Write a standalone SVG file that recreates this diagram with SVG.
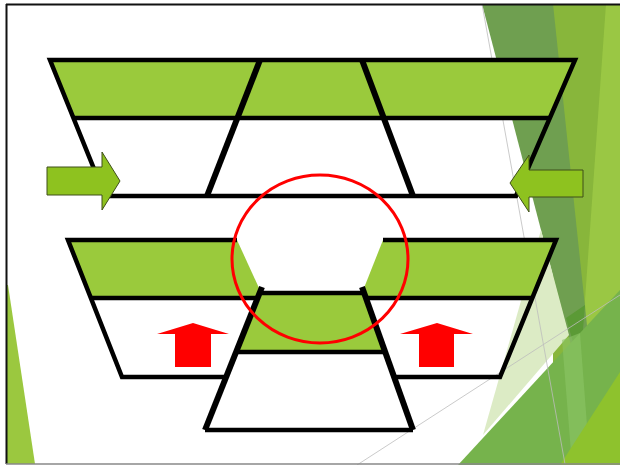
<svg xmlns="http://www.w3.org/2000/svg" width="620" height="465" viewBox="0 0 620 465">
  <style>
    .band { fill: #9ACA3C; }
    .ln { fill: none; stroke: #000; stroke-width: 4.5; stroke-linejoin: miter; }
    .div { fill: none; stroke: #000; stroke-width: 6; }
    .garrow { fill: #8EC21F; stroke: #3F4F1A; stroke-width: 1; }
    .rarrow { fill: #FF0000; }
    .thin { fill: none; stroke: #BDBDBD; stroke-width: 0.8; }
  </style>
  <rect x="0" y="0" width="620" height="465" fill="#FFFFFF"/>
  <g id="background-decoration">
    <polygon points="6,285 8,285 35,464 6,464" fill="#9BC83F"/>
    <polygon points="553,4 620,4 620,465 553,465" fill="#88B63B"/>
    <polygon points="606,4 620,4 620,465 588,465 585,300" fill="#9AC744"/>
    <polygon points="482,4 553,4 588,335 577,368" fill="#6F9F50"/>
    <polygon points="566,318 585,305 580,366" fill="#5B9A36"/>
    <polygon points="541,230 569,335 483,435" fill="#DCEBC5"/>
    <polygon points="458,465 580,333 620,290 620,465" fill="#76B34C"/>
    <polygon points="562,340 580,333 590,465 572,465" fill="#8CC466" opacity="0.6"/>
    <polygon points="560,465 620,372 620,465" fill="#8EC22D"/>
    <line class="thin" x1="482" y1="4" x2="565" y2="464"/>
    <line class="thin" x1="357" y1="465" x2="620" y2="295"/>
  </g>
  <g id="frame">
    <line x1="6" y1="4.5" x2="620" y2="4.5" stroke="#111" stroke-width="2"/>
    <line x1="6.5" y1="4" x2="6.5" y2="464" stroke="#111" stroke-width="2"/>
    <line x1="6" y1="464" x2="620" y2="464" stroke="#888" stroke-width="1.5"/>
  </g>
  <g id="top-row">
    <polygon class="band" points="50,60 575,60 550,118 74,118"/>
    <polygon class="ln" points="50,60 575,60 516,196 105,196"/>
    <line class="ln" x1="74" y1="118" x2="550" y2="118"/>
    <line class="div" x1="260" y1="60" x2="207" y2="196"/>
    <line class="div" x1="362" y1="60" x2="413" y2="196"/>
  </g>
  <g id="bottom-left">
    <polygon class="band" points="68,240 237,240 259,288 260,298 91,298"/>
    <polyline class="ln" points="237,240 68,240 122,377 226,377"/>
    <line class="ln" x1="91" y1="298" x2="258" y2="298"/>
  </g>
  <g id="bottom-right">
    <polygon class="band" points="383,240 556,240 533,298 364,298 364,288"/>
    <polyline class="ln" points="383,240 556,240 500,377 395,377"/>
    <line class="ln" x1="366" y1="298" x2="533" y2="298"/>
  </g>
  <g id="bottom-middle">
    <polygon class="band" points="262,293 362,293 385,352 238,352"/>
    <line class="ln" x1="261" y1="293" x2="363" y2="293"/>
    <line class="div" x1="262" y1="287" x2="205" y2="430"/>
    <line class="div" x1="362" y1="287" x2="413" y2="430"/>
    <line class="ln" x1="237" y1="352" x2="386" y2="352"/>
    <line class="ln" x1="205" y1="430" x2="413" y2="430"/>
  </g>
  <g id="connectors">
    <polygon id="arrow-left" class="garrow" points="47,167 102,167 102,152 120,181 102,210 102,195 47,195"/>
    <polygon id="arrow-right" class="garrow" points="583,170 529,170 529,155 510,183 529,212 529,197 583,197"/>
    <polygon id="arrow-up-left" class="rarrow" points="157,334 193,323 229,334 211,334 211,367 175,367 175,334"/>
    <polygon id="arrow-up-right" class="rarrow" points="400,334 437,323 473,334 454,334 454,367 419,367 419,334"/>
  </g>
  <g id="highlight">
    <ellipse cx="320" cy="259" rx="88" ry="84" fill="none" stroke="#FF0000" stroke-width="3"/>
  </g>
</svg>
